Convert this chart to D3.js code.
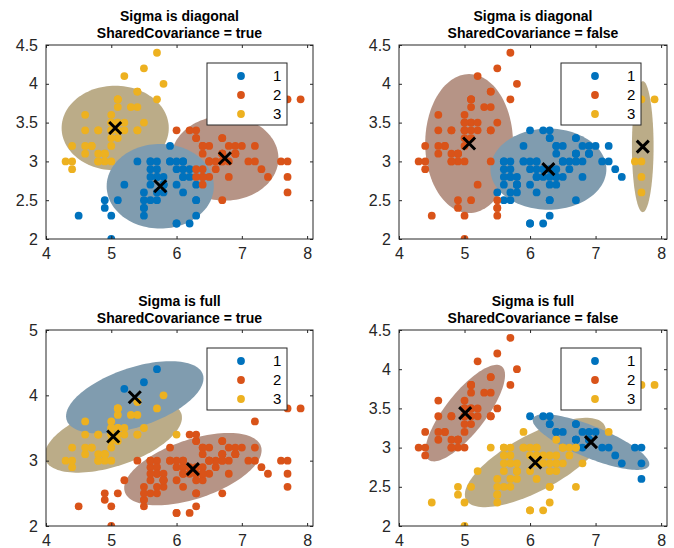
<!DOCTYPE html>
<html>
<head>
<meta charset="utf-8">
<script src="https://cdn.jsdelivr.net/npm/d3@7"></script>
<style>
body { margin: 0; background: #fff; }
text { font-family: "Liberation Sans", Arial, Helvetica, sans-serif; }
</style>
</head>
<body>
<div id="chart-area"></div>
<script>
// Fisher iris: sepal length / sepal width
var sepalLength = [
  5.1,4.9,4.7,4.6,5.0,5.4,4.6,5.0,4.4,4.9, 5.4,4.8,4.8,4.3,5.8,5.7,5.4,5.1,5.7,5.1,
  5.4,5.1,4.6,5.1,4.8,5.0,5.0,5.2,5.2,4.7, 4.8,5.4,5.2,5.5,4.9,5.0,5.5,4.9,4.4,5.1,
  5.0,4.5,4.4,5.0,5.1,4.8,5.1,4.6,5.3,5.0,
  7.0,6.4,6.9,5.5,6.5,5.7,6.3,4.9,6.6,5.2, 5.0,5.9,6.0,6.1,5.6,6.7,5.6,5.8,6.2,5.6,
  5.9,6.1,6.3,6.1,6.4,6.6,6.8,6.7,6.0,5.7, 5.5,5.5,5.8,6.0,5.4,6.0,6.7,6.3,5.6,5.5,
  5.5,6.1,5.8,5.0,5.6,5.7,5.7,6.2,5.1,5.7,
  6.3,5.8,7.1,6.3,6.5,7.6,4.9,7.3,6.7,7.2, 6.5,6.4,6.8,5.7,5.8,6.4,6.5,7.7,7.7,6.0,
  6.9,5.6,7.7,6.3,6.7,7.2,6.2,6.1,6.4,7.2, 7.4,7.9,6.4,6.3,6.1,7.7,6.3,6.4,6.0,6.9,
  6.7,6.9,5.8,6.8,6.7,6.7,6.3,6.5,6.2,5.9
];
var sepalWidth = [
  3.5,3.0,3.2,3.1,3.6,3.9,3.4,3.4,2.9,3.1, 3.7,3.4,3.0,3.0,4.0,4.4,3.9,3.5,3.8,3.8,
  3.4,3.7,3.6,3.3,3.4,3.0,3.4,3.5,3.4,3.2, 3.1,3.4,4.1,4.2,3.1,3.2,3.5,3.1,3.0,3.4,
  3.5,2.3,3.2,3.5,3.8,3.0,3.8,3.2,3.7,3.3,
  3.2,3.2,3.1,2.3,2.8,2.8,3.3,2.4,2.9,2.7, 2.0,3.0,2.2,2.9,2.9,3.1,3.0,2.7,2.2,2.5,
  3.2,2.8,2.5,2.8,2.9,3.0,2.8,3.0,2.9,2.6, 2.4,2.4,2.7,2.7,3.0,3.4,3.1,2.3,3.0,2.5,
  2.6,3.0,2.6,2.3,2.7,3.0,2.9,2.9,2.5,2.8,
  3.3,2.7,3.0,2.9,3.0,3.0,2.5,2.9,2.5,3.6, 3.2,2.7,3.0,2.5,2.8,3.2,3.0,3.8,2.6,2.2,
  3.2,2.8,2.8,2.7,3.3,3.2,2.8,3.0,2.8,3.0, 2.8,3.8,2.8,2.8,2.6,3.0,3.4,3.1,3.0,3.1,
  3.1,3.1,2.7,3.2,3.3,3.0,2.5,3.0,3.4,3.0
];

// cluster index of every point, one string per fit
var clusterDiagShared =
  "3333333333 3333333333 3333333333 3333333333 3133333333 " +
  "2221212121 1111121111 1111222211 1111122111 1111111111 " +
  "2122221222 2221122221 2121221122 2222122212 2212221221";
var clusterDiagUnshared =
  "2222222222 2222222222 2222222222 2222222222 2222222222 " +
  "1112111212 2111111111 1111111111 2211211112 1112111121 " +
  "1111132111 1111111331 1131111111 1311131111 1111111111";
var clusterFullShared =
  "3333333333 3333313333 3333333333 3311333333 3233333333 " +
  "2222222222 2222222222 2222222222 2222232222 2222222222 " +
  "2222222222 2222222222 2222222222 2222222222 2222222222";
var clusterFullUnshared =
  "2222222222 2222222222 2222222222 2222222222 2322222222 " +
  "1113331333 3333313333 3333333333 3333311333 3333333333 " +
  "1313313133 1313313313 1313133331 1333311331 1131133313";

// component means [x, y]
var muDiagShared   = [[5.75, 2.68], [6.74, 3.04], [5.06, 3.43]];
var muDiagUnshared = [[6.28, 2.90], [5.07, 3.23], [7.72, 3.19]];
var muFullShared   = [[5.36, 3.97], [6.25, 2.87], [5.03, 3.37]];
var muFullUnshared = [[6.93, 3.07], [5.01, 3.44], [6.08, 2.81]];

// component covariances [sxx, sxy, syy]
var sigmaDiagShared   = [[0.222, 0, 0.098], [0.222, 0, 0.098], [0.222, 0, 0.098]];
var sigmaDiagUnshared = [[0.258, 0, 0.090], [0.148, 0, 0.264], [0.009, 0, 0.235]];
var sigmaFullShared   = [[0.365, 0.10, 0.101], [0.365, 0.10, 0.101], [0.365, 0.10, 0.101]];
var sigmaFullUnshared = [[0.261, -0.082, 0.0415], [0.122, 0.097, 0.125], [0.381, 0.145, 0.107]];

var titles = [
  ["Sigma is diagonal", "SharedCovariance = true"],
  ["Sigma is diagonal", "SharedCovariance = false"],
  ["Sigma is full", "SharedCovariance = true"],
  ["Sigma is full", "SharedCovariance = false"]
];
var legendLabels = ["1", "2", "3"];
var xTicks = [4, 5, 6, 7, 8];
var yTicksA = [2, 2.5, 3, 3.5, 4, 4.5];
var yTicksB = [2, 3, 4, 5];

var colors = ["#0072BD", "#D95319", "#EDB120"];
// region colour = 0.25*c + 0.5
var regionColors = colors.map(function(c) {
  var r = d3.rgb(c);
  return d3.rgb(r.r * 0.25 + 127.5, r.g * 0.25 + 127.5, r.b * 0.25 + 127.5) + "";
});
var radius = 1.742; // sqrt(sqrt(chi2inv(0.99,2)))

var fits = [
  { mu: muDiagShared,   sigma: sigmaDiagShared,   cluster: clusterDiagShared,   yDomain: [2, 4.5], yTicks: yTicksA },
  { mu: muDiagUnshared, sigma: sigmaDiagUnshared, cluster: clusterDiagUnshared, yDomain: [2, 4.5], yTicks: yTicksA },
  { mu: muFullShared,   sigma: sigmaFullShared,   cluster: clusterFullShared,   yDomain: [2, 5],   yTicks: yTicksB },
  { mu: muFullUnshared, sigma: sigmaFullUnshared, cluster: clusterFullUnshared, yDomain: [2, 4.5], yTicks: yTicksA }
];

var boxes = [
  { left: 46,  top: 45,  right: 313, bottom: 239 },
  { left: 399, top: 45,  right: 667, bottom: 239 },
  { left: 46,  top: 330, right: 313, bottom: 526 },
  { left: 399, top: 330, right: 667, bottom: 526 }
];

var svg = d3.select("#chart-area")
  .append("svg")
    .attr("width", 674)
    .attr("height", 548);

var axisColor = "#262626";
var dotR = 3.9;

fits.forEach(function(fit, i) {
  var b = boxes[i];
  var x = d3.scaleLinear().domain([4, 8.09]).range([b.left, b.right]);
  var y = d3.scaleLinear().domain(fit.yDomain).range([b.bottom, b.top]);
  var labels = fit.cluster.replace(/ /g, "").split("").map(Number);

  svg.append("clipPath")
      .attr("id", "clip" + i)
    .append("rect")
      .attr("x", b.left).attr("y", b.top)
      .attr("width", b.right - b.left).attr("height", b.bottom - b.top);

  var g = svg.append("g").attr("clip-path", "url(#clip" + i + ")");

  // regions (component 1 on top)
  var line = d3.line()
    .x(function(d) { return x(d[0]); })
    .y(function(d) { return y(d[1]); });
  [2, 1, 0].forEach(function(m) {
    var mu = fit.mu[m], s = fit.sigma[m];
    var a = Math.sqrt(s[0]), bb = s[1] / a, c = Math.sqrt(s[2] - bb * bb);
    var pts = d3.range(0, 121).map(function(j) {
      var t = j / 120 * 2 * Math.PI;
      return [mu[0] + radius * a * Math.cos(t),
              mu[1] + radius * (bb * Math.cos(t) + c * Math.sin(t))];
    });
    g.append("path")
      .attr("d", line(pts))
      .attr("fill", regionColors[m]);
  });

  // points, group by group
  [1, 2, 3].forEach(function(m) {
    g.selectAll(null)
      .data(d3.range(150).filter(function(j) { return labels[j] === m; }))
      .enter()
      .append("circle")
        .attr("cx", function(j) { return x(sepalLength[j]); })
        .attr("cy", function(j) { return y(sepalWidth[j]); })
        .attr("r", dotR)
        .attr("fill", colors[m - 1]);
  });

  // means
  g.selectAll(null)
    .data(fit.mu)
    .enter()
    .append("path")
      .attr("transform", function(d) { return "translate(" + x(d[0]) + "," + y(d[1]) + ")"; })
      .attr("d", "M-6,-6L6,6M-6,6L6,-6")
      .attr("stroke", "#000")
      .attr("stroke-width", 3)
      .attr("fill", "none");

  // axes
  var fmt = function(d) { return d; };
  var xAxis = svg.append("g")
    .attr("transform", "translate(0," + b.bottom + ")")
    .call(d3.axisBottom(x).tickValues(xTicks).tickSizeInner(-3).tickSizeOuter(0).tickPadding(9).tickFormat(fmt));
  var xTop = svg.append("g")
    .attr("transform", "translate(0," + b.top + ")")
    .call(d3.axisTop(x).tickValues(xTicks).tickSizeInner(-3).tickSizeOuter(0).tickFormat(""));
  var yAxis = svg.append("g")
    .attr("transform", "translate(" + b.left + ",0)")
    .call(d3.axisLeft(y).tickValues(fit.yTicks).tickSizeInner(-3).tickSizeOuter(0).tickPadding(8).tickFormat(fmt));
  var yRight = svg.append("g")
    .attr("transform", "translate(" + b.right + ",0)")
    .call(d3.axisRight(y).tickValues(fit.yTicks).tickSizeInner(-3).tickSizeOuter(0).tickFormat(""));

  [xAxis, xTop, yAxis, yRight].forEach(function(ax) {
    ax.select(".domain").remove();
    ax.selectAll("line").attr("stroke", axisColor);
    ax.selectAll("text")
      .attr("fill", axisColor)
      .attr("font-size", "16px")
      .attr("font-family", "'Liberation Sans', Arial, sans-serif");
  });

  svg.append("rect")
    .attr("x", b.left).attr("y", b.top)
    .attr("width", b.right - b.left).attr("height", b.bottom - b.top)
    .attr("fill", "none")
    .attr("stroke", axisColor)
    .attr("stroke-width", 1);

  // title
  var cx = (b.left + b.right) / 2;
  svg.append("text")
    .attr("x", cx).attr("y", b.top - 24)
    .attr("text-anchor", "middle")
    .attr("font-size", "14px").attr("font-weight", "bold")
    .attr("fill", "#000")
    .text(titles[i][0]);
  svg.append("text")
    .attr("x", cx).attr("y", b.top - 7)
    .attr("text-anchor", "middle")
    .attr("font-size", "14px").attr("font-weight", "bold")
    .attr("fill", "#000")
    .text(titles[i][1]);

  // legend
  var lx = b.right - 26 - 80, ly = b.top + 18;
  var leg = svg.append("g").attr("transform", "translate(" + lx + "," + ly + ")");
  leg.append("rect")
    .attr("width", 80).attr("height", 62)
    .attr("fill", "#fff")
    .attr("stroke", axisColor)
    .attr("stroke-width", 1);
  legendLabels.forEach(function(lab, m) {
    leg.append("circle")
      .attr("cx", 34).attr("cy", 13 + m * 19)
      .attr("r", dotR)
      .attr("fill", colors[m]);
    leg.append("text")
      .attr("x", 66).attr("y", 13 + m * 19)
      .attr("dy", "0.35em")
      .attr("font-size", "15px")
      .attr("fill", "#000")
      .text(lab);
  });
});
</script>
</body>
</html>
